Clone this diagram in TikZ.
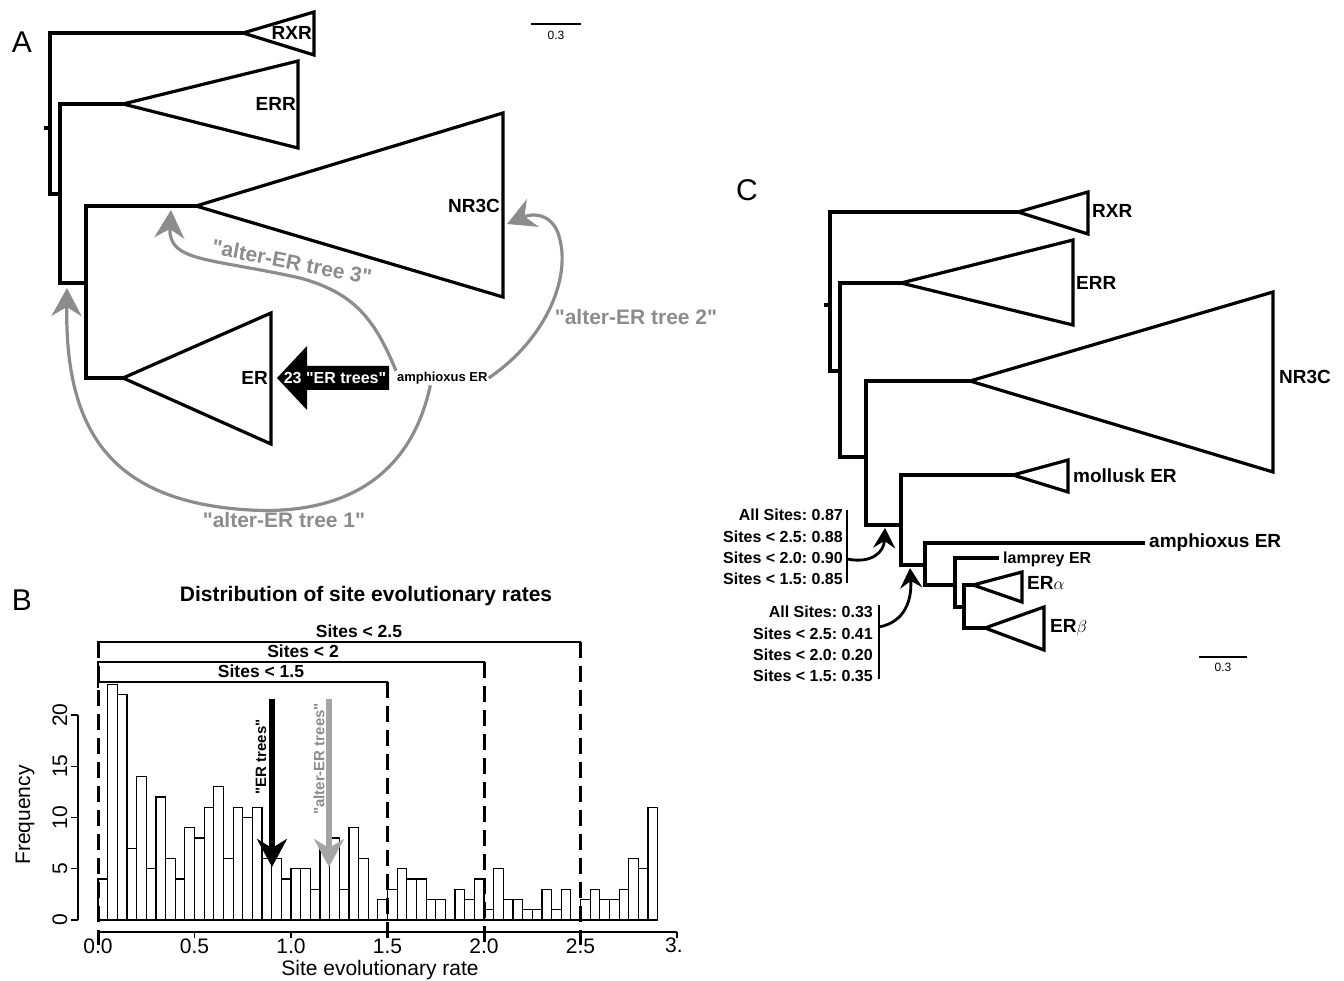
\documentclass[tikz,border=0pt]{standalone}
\usepackage{fontspec}
\setmainfont{Liberation Sans}
\newfontfamily\labfont{Liberation Sans}
\usetikzlibrary{arrows.meta, positioning}
\definecolor{altgray}{HTML}{8C8C8C}
\definecolor{rategray}{HTML}{A5A5A5}
\tikzset{
  branch/.style={line width=3.2pt, line join=miter},
  clade/.style={line width=3.2pt, line join=miter},
  taxon/.style={font=\labfont\bfseries\fontsize{19}{21}\selectfont, inner sep=1pt},
  smalltaxon/.style={font=\labfont\bfseries\fontsize{13}{15}\selectfont, inner sep=1pt},
  altarrow/.style={draw=altgray, line width=3.2pt, -{Stealth[length=28pt,width=30pt,inset=9pt]}},
  altlabel/.style={text=altgray, font=\labfont\bfseries\fontsize{21}{23}\selectfont, inner sep=0pt},
  nodearrow/.style={line width=2.8pt, -{Stealth[length=20pt,width=22pt,inset=7pt]}},
  support/.style={font=\labfont\bfseries\fontsize{16}{21.4}\selectfont\frenchspacing, align=right, inner sep=0pt},
  panel/.style={font=\labfont\fontsize{30}{32}\selectfont, inner sep=0pt},
  scalelab/.style={font=\labfont\fontsize{12}{14}\selectfont, inner sep=0pt},
  histbar/.style={line width=1.2pt},
  cutline/.style={line width=3pt, dash pattern=on 16pt off 8pt},
  bracket/.style={line width=1.2pt},
  cutlab/.style={font=\labfont\bfseries\fontsize{17.5}{19}\selectfont, inner sep=0pt},
  ticklab/.style={font=\labfont\fontsize{21}{23}\selectfont, inner sep=0pt},
  ratelab/.style={font=\labfont\bfseries\fontsize{15}{17}\selectfont, inner sep=0pt, rotate=90},
  ratearrow/.style={line width=5.5pt, -{Stealth[length=28pt,width=30pt,inset=9pt]}}
}
\begin{document}
\begin{tikzpicture}[x=1pt,y=-1pt]
    \useasboundingbox (0,0) rectangle (1344,981);

    % Panel A: tree with collapsed clades
    \node[panel] (labA) at (22,42) {A};
    \draw[branch] (44,128) -- (50,128);
    \draw[branch] (243,33) -- (50,33) -- (50,194) -- (60,194);
    \draw[branch] (123,104) -- (60,104) -- (60,283) -- (86,283);
    \draw[branch] (196,206) -- (86,206) -- (86,378) -- (123,378);
    \draw[clade] (243,33) -- (314,12) -- (314,55) -- cycle;
    \draw[clade] (123,104) -- (298,61) -- (298,148) -- cycle;
    \draw[clade] (196,206) -- (503,113) -- (503,297) -- cycle;
    \draw[clade] (123,378) -- (271,313) -- (271,444) -- cycle;
    \node[taxon, anchor=east] (rxrA) at (313,33) {RXR};
    \node[taxon, anchor=east] (errA) at (297,104) {ERR};
    \node[taxon, anchor=east] (nrA) at (501,206) {NR3C};
    \node[taxon, anchor=east] (erA) at (269,378) {ER};

    % Placements of amphioxus ER
    \fill (277,378) -- (307,346) -- (307,366) -- (389,366) -- (389,390) -- (307,390) -- (307,410) -- cycle;
    \node[text=white, font=\labfont\bfseries\fontsize{16}{18}\selectfont, inner sep=0pt] (ertreesA) at (335,378) {23 "ER trees"};
    \node[smalltaxon, anchor=west] (amphA) at (396,378) {amphioxus ER};
    \coordinate (tipThree) at (171,210);
    \coordinate (tipTwo) at (507,224);
    \coordinate (tipOne) at (67,288);
    \draw[altarrow] (amphA.north west) .. controls (375,320) and (355,293) .. (300,278)
        .. controls (210,258) and (168,262) .. (tipThree);
    \draw[altarrow] (amphA.east) .. controls (545,340) and (570,280) .. (560,240)
        .. controls (555,215) and (535,212) .. (tipTwo);
    \draw[altarrow] ([xshift=-12pt]amphA.south) .. controls (410,480) and (340,515) .. (250,510)
        .. controls (110,502) and (65,430) .. (tipOne);
    \node[altlabel, rotate=-11] (altThree) at (292,262) {"alter-ER tree 3"};
    \node[altlabel] (altTwo) at (636,317) {"alter-ER tree 2"};
    \node[altlabel] (altOne) at (284,520) {"alter-ER tree 1"};

    % Scale bar A
    \draw[line width=1.4pt] (531,24) -- (581,24);
    \node[scalelab] (scaleA) at (556,35) {0.3};

    % Panel B: histogram of rates
    \node[panel] (labB) at (22,600) {B};
    \node[font=\labfont\bfseries\fontsize{21}{23}\selectfont] (titleB) at (366,596) {Distribution of site evolutionary rates};
    \foreach \h [count=\i from 0] in {4,23,22,7,14,5,12,6,4,9,8,11,13,6,11,10,11,6,6,4,5,5,3,7,8,3,9,6,0,2,3,5,4,4,2,2,0,3,2,4,1,5,2,2,1,1,3,1,3,0,2,3,2,2,3,6,5,11}
        \draw[histbar] ({98+9.65*\i},920) rectangle ({98+9.65*(\i+1)},{920-10.25*\h});
    \draw[histbar] (98,920) -- (658,920);

    % Axes
    \draw[line width=1.2pt] (98,932) -- (677,932);
    \foreach \v/\t in {0/0.0,0.5/0.5,1/1.0,1.5/1.5,2/2.0,2.5/2.5}
        \draw[line width=1.2pt] ({98+193*\v},932) -- ({98+193*\v},938) node[ticklab, below=0pt] {\t};
    \draw[line width=1.2pt] (677,932) -- (677,938);
    \node[ticklab, anchor=north west] (three) at (665,938) {3.};
    \draw[line width=1.2pt] (78,920) -- (78,715);
    \foreach \f in {0,5,10,15,20}
        \draw[line width=1.2pt] (78,{920-10.25*\f}) -- (71,{920-10.25*\f}) node[ticklab, left=3pt, rotate=90, anchor=south] {\f};
    \node[ticklab, rotate=90] (freq) at (25,815) {Frequency};
    \node[ticklab] (xlab) at (380,970) {Site evolutionary rate};

    % Rate cut-offs
    \draw[cutline] (98,642) -- (98,945);
    \draw[cutline] (387,682) -- (387,945);
    \draw[cutline] (484,662) -- (484,945);
    \draw[cutline] (580,642) -- (580,945);
    \draw[bracket] (98,648) -- (98,642) -- (580,642) -- (580,648);
    \draw[bracket] (98,668) -- (98,662) -- (484,662) -- (484,668);
    \draw[bracket] (98,688) -- (98,682) -- (387,682) -- (387,688);
    \node[cutlab] (cutA) at (359,631) {Sites < 2.5};
    \node[cutlab] (cutB) at (303,651) {Sites < 2};
    \node[cutlab] (cutC) at (261,671) {Sites < 1.5};

    % Mean rates of the two tree sets
    \draw[ratearrow] (272,699) -- (272,867);
    \draw[ratearrow, draw=rategray, fill=rategray] (329,699) -- (329,867);
    \node[ratelab] (erRate) at (261,757) {"ER trees"};
    \node[ratelab, text=altgray] (altRate) at (319,759) {"alter-ER trees"};

    % Panel C: tree with lamprey and mollusk ER
    \node[panel] (labC) at (747,190) {C};
    \draw[branch] (824,305) -- (830,305);
    \draw[branch] (1018,212) -- (830,212) -- (830,371) -- (840,371);
    \draw[branch] (901,283) -- (840,283) -- (840,457) -- (866,457);
    \draw[branch] (970,381) -- (866,381) -- (866,525) -- (901,525);
    \draw[branch] (1013,475) -- (901,475) -- (901,565) -- (925,565);
    \draw[branch] (1145,543) -- (925,543) -- (925,585) -- (955,585);
    \draw[branch] (999,558) -- (955,558) -- (955,607) -- (964,607);
    \draw[branch] (973,585) -- (964,585) -- (964,628) -- (985,628);
    \draw[clade] (1018,212) -- (1088,192) -- (1088,234) -- cycle;
    \draw[clade] (901,283) -- (1073,240) -- (1073,325) -- cycle;
    \draw[clade] (970,381) -- (1273,292) -- (1273,472) -- cycle;
    \draw[clade] (1013,475) -- (1068,460) -- (1068,492) -- cycle;
    \draw[clade] (973,585) -- (1022,572) -- (1022,602) -- cycle;
    \draw[clade] (985,628) -- (1044,607) -- (1044,650) -- cycle;
    \node[taxon, anchor=west] (rxrC) at (1091,211) {RXR};
    \node[taxon, anchor=west] (errC) at (1075,283) {ERR};
    \node[taxon, anchor=west] (nrC) at (1278,377) {NR3C};
    \node[taxon, anchor=west] (molC) at (1072,476) {mollusk ER};
    \node[taxon, anchor=west] (amphC) at (1148,543) {amphioxus ER};
    \node[taxon, anchor=west, font=\labfont\bfseries\fontsize{16}{18}\selectfont] (lampC) at (1002,559) {lamprey ER};
    \node[taxon, anchor=west] (alphaC) at (1026,583) {ER$\alpha$};
    \node[taxon, anchor=west] (betaC) at (1049,628) {ER$\beta$};

    % Support values
    \node[support, anchor=east] (supA) at (843,547) {All Sites: 0.87\\Sites < 2.5: 0.88\\Sites < 2.0: 0.90\\Sites < 1.5: 0.85};
    \node[support, anchor=east] (supB) at (873,644) {All Sites: 0.33\\Sites < 2.5: 0.41\\Sites < 2.0: 0.20\\Sites < 1.5: 0.35};
    \draw[line width=2.6pt] (847,510) -- (847,583);
    \draw[line width=2.6pt] (879,605) -- (879,679);
    \coordinate (nodeA) at (885,528);
    \coordinate (nodeB) at (910,568);
    \draw[nodearrow] (847,559) .. controls (872,564) and (884,552) .. (nodeA);
    \draw[nodearrow] (879,627) .. controls (905,622) and (912,600) .. (nodeB);

    % Scale bar C
    \draw[line width=1.4pt] (1199,657) -- (1247,657);
    \node[scalelab] (scaleC) at (1223,667) {0.3};
\end{tikzpicture}
\end{document}
